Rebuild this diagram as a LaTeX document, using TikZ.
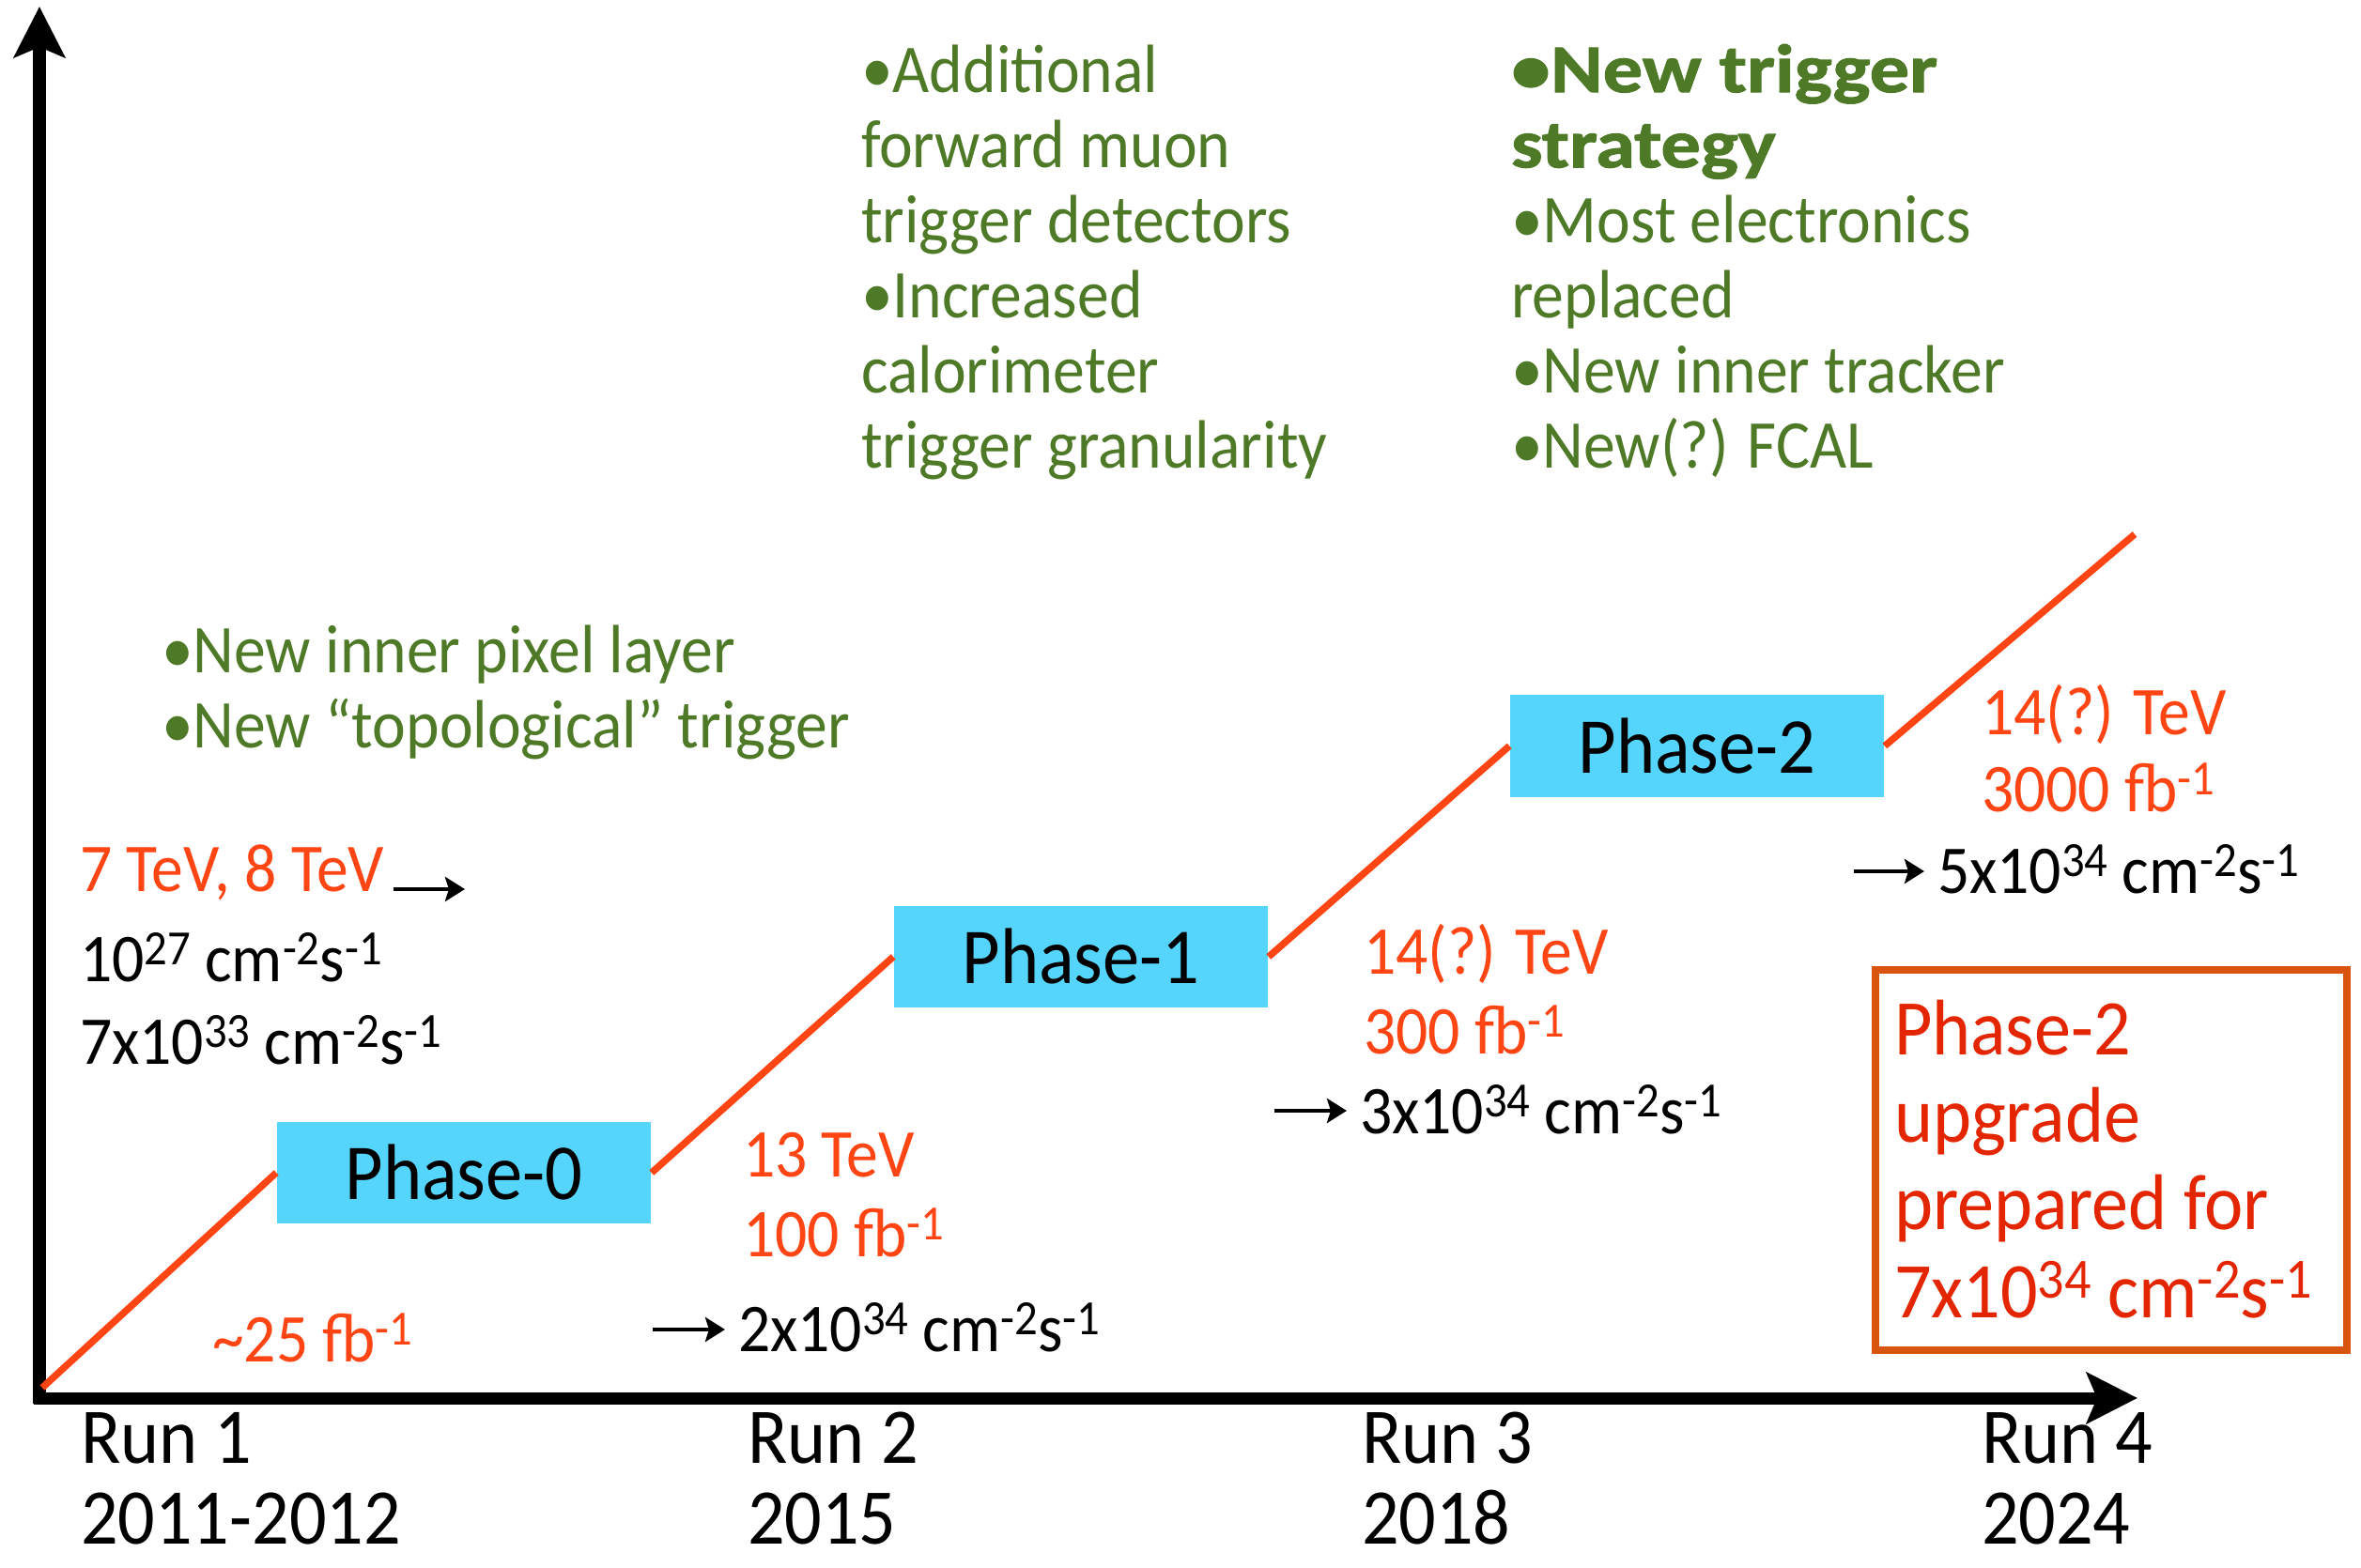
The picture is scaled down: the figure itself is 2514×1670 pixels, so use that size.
\documentclass[tikz,border=0pt]{standalone}
\usepackage{graphicx}
\usepackage{fontspec}
\setmainfont{Carlito}[FakeStretch=0.93, BoldFeatures={FakeStretch=1.16, FakeBold=1.5}]
\usetikzlibrary{arrows.meta}
\definecolor{gtext}{RGB}{78,122,40}
\definecolor{rtext}{RGB}{255,69,20}
\definecolor{pcyan}{RGB}{85,212,252}
\definecolor{oborder}{RGB}{217,84,13}
\definecolor{btext}{RGB}{227,38,0}
\newcommand{\up}[1]{\raisebox{0.24em}{\scalebox{0.72}{#1}}}
\begin{document}
\begin{tikzpicture}[x=0.01cm, y=-0.01cm,
  txt/.style={anchor=base west, inner sep=0pt, outer sep=0pt, align=left},
  small/.style={font=\fontsize{20.7}{22.8}\selectfont},
  pair/.style={font=\fontsize{20.7}{23.9}\selectfont},
  large/.style={font=\fontsize{23.9}{26.5}\selectfont},
  green/.style={text=gtext},
  redt/.style={text=rtext},
  phase/.style={fill=pcyan, draw=none, minimum width=3.98cm, minimum height=1.08cm, inner sep=0pt, font=\fontsize{24}{26}\selectfont},
  redline/.style={draw=rtext, line width=2.1pt},
  axis/.style={line width=3.7pt, -{Stealth[length=5.4mm,width=5.4mm,inset=1.1mm]}},
  smallarr/.style={line width=1.4pt, -{Stealth[length=2.1mm,width=2.6mm,inset=0.4mm]}},
  notebox/.style={draw=oborder, line width=2.3pt, minimum width=5.02cm, minimum height=4.05cm, inner sep=0pt}
]
\useasboundingbox (0,0) rectangle (2514,1670);

% axes
\coordinate (Ov) at (42,1495);
\coordinate (Oh) at (36,1489);
\coordinate (ytip) at (42,7);
\coordinate (xtip) at (2276,1489);
\draw[axis] (Ov) -- (ytip);
\draw[axis] (Oh) -- (xtip);

% luminosity line
\coordinate (r0) at (45,1478);
\coordinate (r4) at (2273,569);

% phase boxes
\node[phase] (p0) at (494,1249) {Phase-0};
\node[phase] (p1) at (1151,1019) {Phase-1};
\node[phase] (p2) at (1807,794.5) {Phase-2};

\draw[redline] (r0) -- (p0.west);
\draw[redline] (p0.east) -- (p1.west);
\draw[redline] (p1.east) -- (p2.west);
\draw[redline] (p2.east) -- (r4);

% green upgrade texts (anchor = baseline of last line)
\node[txt, small, green] (gl) at (172,797) {•New inner pixel layer\\•New “topological” trigger};
\node[txt, small, green] (gm) at (917,499) {•Additional\\forward muon\\trigger detectors\\•Increased\\calorimeter\\trigger granularity};
\node[txt, small, green] (gr) at (1609,499) {\textbf{•New trigger}\\\textbf{strategy}\\•Most electronics\\replaced\\•New inner tracker\\•New(?) FCAL};

% Run 1
\node[txt, small, redt] (e1) at (85,949) {7 TeV, 8 TeV};
\coordinate (a1s) at (419,947);
\coordinate (a1e) at (495,947);
\draw[smallarr] (a1s) -- (a1e);
\node[txt, small] (l1a) at (85,1045) {10\up{27} cm\up{-2}s\up{-1}};
\node[txt, small] (l1b) at (85,1133) {7x10\up{33} cm\up{-2}s\up{-1}};
\node[txt, small, redt] (i1) at (226,1450) {\char"7E 25 fb\up{-1}};

% Run 2
\node[txt, pair, redt] (e2) at (791,1338) {13 TeV\\100 fb\up{-1}};
\coordinate (a2s) at (695,1416);
\coordinate (a2e) at (772,1416);
\draw[smallarr] (a2s) -- (a2e);
\node[txt, small] (l2) at (786,1439) {2x10\up{34} cm\up{-2}s\up{-1}};

% Run 3
\node[txt, pair, redt] (e3) at (1452,1122) {14(?) TeV\\300 fb\up{-1}};
\coordinate (a3s) at (1357,1183);
\coordinate (a3e) at (1434,1183);
\draw[smallarr] (a3s) -- (a3e);
\node[txt, small] (l3) at (1448,1207) {3x10\up{34} cm\up{-2}s\up{-1}};

% Run 4
\node[txt, font=\fontsize{20.7}{23.3}\selectfont, redt] (e4) at (2110,864) {14(?) TeV\\3000 fb\up{-1}};
\coordinate (a4s) at (1974,928);
\coordinate (a4e) at (2049,928);
\draw[smallarr] (a4s) -- (a4e);
\node[txt, small] (l4) at (2063,951) {5x10\up{34} cm\up{-2}s\up{-1}};

% note box
\node[notebox] (note) at (2248,1235.5) {};
\node[txt, font=\fontsize{23.9}{26.5}\selectfont, text=btext] (notetext) at (2017,1403) {Phase-2\\upgrade\\prepared for\\7x10\up{34} cm\up{-2}s\up{-1}};

% run labels
\node[txt, large] (run1) at (86,1558) {Run 1};
\node[txt, large] (yr1) at (86,1644) {2011-2012};
\node[txt, large] (run2) at (796,1558) {Run 2};
\node[txt, large] (yr2) at (796,1644) {2015};
\node[txt, large] (run3) at (1450,1558) {Run 3};
\node[txt, large] (yr3) at (1450,1644) {2018};
\node[txt, large] (run4) at (2110,1558) {Run 4};
\node[txt, large] (yr4) at (2110,1644) {2024};
\end{tikzpicture}
\end{document}
